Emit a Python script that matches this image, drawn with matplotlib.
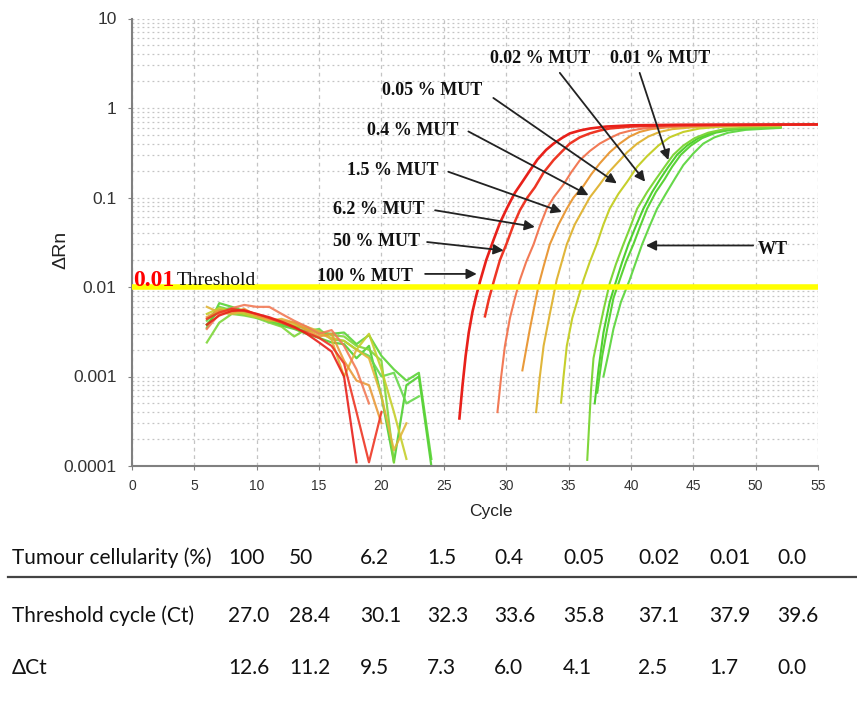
import matplotlib
matplotlib.use('Agg')
import matplotlib.pyplot as plt
from matplotlib.ticker import LogLocator, NullFormatter, FixedLocator, FixedFormatter
from matplotlib.lines import Line2D
import numpy as np

# baseline part of every well (cycles 6..24, None = no point on log axis)
base_cycles = [6, 7, 8, 9, 10, 11, 12, 13, 14, 15, 16, 17, 18, 19, 20, 21, 22, 23, 24]
N = None
base_r1 = [0.0038, 0.0048, 0.0054, 0.0055, 0.0050, 0.0046, 0.0041, 0.0036, 0.0030, 0.0024, 0.0019, 0.0010, 0.00011, N, N, N, N, N, N]
base_r2 = [0.0044, 0.0052, 0.0057, 0.0054, 0.0050, 0.0045, 0.0040, 0.0035, 0.0031, 0.0027, 0.0022, 0.0014, 0.0004, 0.00011, 0.0004, N, N, N, N]
base_o3 = [0.0034, 0.0050, 0.0058, 0.0063, 0.0060, 0.0060, 0.0050, 0.0042, 0.0036, 0.0030, 0.0033, 0.0022, 0.0012, 0.0005, N, N, N, N, N]
base_o4 = [0.0046, 0.0055, 0.0052, 0.0057, 0.0048, 0.0044, 0.0042, 0.0040, 0.0033, 0.0028, 0.0030, 0.0015, 0.0009, 0.0008, 0.0003, N, N, N, N]
base_y5 = [0.0060, 0.0052, 0.0050, 0.0053, 0.0047, 0.0042, 0.0044, 0.0040, 0.0036, 0.0032, 0.0026, 0.0010, 0.0020, 0.0016, 0.0006, 0.00015, 0.0003, N, N]
base_yg6 = [0.0050, 0.0058, 0.0054, 0.0050, 0.0046, 0.0043, 0.0040, 0.0038, 0.0034, 0.0030, 0.0027, 0.0025, 0.0020, 0.0030, 0.0012, 0.0004, 0.00012, N, N]
base_g7 = [0.0024, 0.0040, 0.0050, 0.0048, 0.0045, 0.0040, 0.0036, 0.0028, 0.0034, 0.0032, 0.0029, 0.0028, 0.0022, 0.0020, 0.0015, 0.00011, N, N, N]
base_g8 = [0.0035, 0.0066, 0.0060, 0.0054, 0.0045, 0.0043, 0.0039, 0.0036, 0.0035, 0.0031, 0.0030, 0.0031, 0.0023, 0.0029, 0.0017, 0.0012, 0.0009, 0.0011, 0.00012]
base_g9 = [0.0042, 0.0060, 0.0055, 0.0049, 0.0047, 0.0041, 0.0038, 0.0035, 0.0032, 0.0034, 0.0026, 0.0025, 0.0020, 0.0017, 0.0010, 0.0011, 0.0005, 0.0006, N]
base_g10 = [0.0038, 0.0055, 0.0058, 0.0052, 0.0046, 0.0042, 0.0037, 0.0034, 0.0030, 0.0027, 0.0024, 0.0023, 0.0016, 0.0022, 0.0006, 0.00011, 0.0008, 0.0010, 0.0001]

# amplification part of every well
amp_r1_c = [26.25, 26.5, 26.75, 27.0, 27.3, 27.6, 27.9, 28.4, 29.0, 29.5, 30.1, 30.7, 31.3, 31.9, 32.5, 33.2, 33.8, 34.5, 35.1, 35.9, 36.7, 38, 40, 44, 55]
amp_r1_v = [0.00034, 0.0008, 0.0017, 0.0031, 0.0053, 0.0080, 0.0115, 0.020, 0.034, 0.052, 0.078, 0.113, 0.150, 0.20, 0.265, 0.34, 0.40, 0.465, 0.52, 0.56, 0.59, 0.62, 0.64, 0.65, 0.655]
amp_r2_c = [28.3, 28.6, 29.0, 29.5, 30.05, 30.6, 31.1, 31.7, 32.3, 33.0, 33.8, 34.5, 35.1, 35.9, 36.7, 37.5, 38.3, 40, 43, 55]
amp_r2_v = [0.0047, 0.0072, 0.0115, 0.020, 0.031, 0.050, 0.072, 0.10, 0.13, 0.19, 0.262, 0.33, 0.40, 0.47, 0.52, 0.56, 0.59, 0.62, 0.64, 0.655]
amp_o3_c = [29.3, 29.6, 29.9, 30.3, 30.7, 31.1, 31.6, 32.2, 32.7, 33.25, 33.8, 34.6, 35.2, 35.9, 36.7, 37.5, 38.3, 39.1, 40.0, 41, 43, 46, 52]
amp_o3_v = [0.0004, 0.001, 0.0022, 0.0045, 0.0075, 0.012, 0.019, 0.030, 0.048, 0.075, 0.10, 0.14, 0.19, 0.26, 0.33, 0.40, 0.46, 0.52, 0.56, 0.59, 0.62, 0.64, 0.645]
amp_o4_c = [31.3, 31.6, 31.9, 32.3, 32.6, 33.0, 33.5, 34.2, 34.86, 35.4, 36.2, 36.8, 37.5, 38.3, 39.1, 39.9, 40.7, 41.6, 43, 46, 52]
amp_o4_v = [0.00117, 0.002, 0.0034, 0.0065, 0.0105, 0.017, 0.030, 0.050, 0.075, 0.10, 0.135, 0.18, 0.24, 0.32, 0.40, 0.48, 0.54, 0.58, 0.61, 0.635, 0.645]
amp_y5_c = [32.4, 32.7, 33.0, 33.5, 34.05, 34.5, 34.86, 35.5, 36.2, 36.7, 37.5, 38.2, 38.87, 39.7, 40.5, 41.4, 42.3, 43.3, 45, 48, 52]
amp_y5_v = [0.0004, 0.001, 0.0022, 0.005, 0.012, 0.020, 0.030, 0.050, 0.075, 0.10, 0.14, 0.19, 0.24, 0.32, 0.40, 0.48, 0.54, 0.58, 0.61, 0.635, 0.64]
amp_yg6_c = [34.4, 34.6, 34.86, 35.3, 35.8, 36.2, 36.7, 37.26, 37.8, 38.3, 39.0, 39.7, 40.5, 41.3, 42.2, 43.1, 44.2, 45.5, 47, 52]
amp_yg6_v = [0.00051, 0.001, 0.0022, 0.0045, 0.0078, 0.012, 0.019, 0.030, 0.050, 0.075, 0.11, 0.15, 0.22, 0.29, 0.38, 0.47, 0.54, 0.59, 0.615, 0.635]
amp_g7_c = [36.5, 36.8, 37.0, 37.4, 37.8, 38.3, 38.8, 39.4, 39.9, 40.5, 41.3, 42.0, 42.7, 43.4, 44.2, 45.1, 46.2, 47.5, 49, 52]
amp_g7_v = [0.000117, 0.0007, 0.0016, 0.003, 0.0055, 0.011, 0.018, 0.030, 0.045, 0.075, 0.115, 0.16, 0.22, 0.30, 0.38, 0.46, 0.53, 0.58, 0.60, 0.61]
amp_g8_c = [37.3, 37.7, 38.1, 38.6, 39.1, 39.6, 40.2, 40.7, 41.3, 42.0, 42.7, 43.3, 44.0, 44.8, 45.7, 46.8, 48.0, 50, 52]
amp_g8_v = [0.00066, 0.0017, 0.0034, 0.0075, 0.012, 0.019, 0.030, 0.046, 0.075, 0.115, 0.16, 0.22, 0.30, 0.38, 0.46, 0.53, 0.57, 0.60, 0.61]
amp_g9_c = [37.8, 38.2, 38.6, 39.2, 39.9, 40.4, 40.9, 41.5, 42.1, 42.8, 43.5, 44.2, 45.0, 45.8, 46.7, 47.8, 49.2, 52]
amp_g9_v = [0.001, 0.0018, 0.0034, 0.0068, 0.012, 0.019, 0.030, 0.048, 0.075, 0.11, 0.16, 0.23, 0.31, 0.40, 0.47, 0.53, 0.57, 0.60]
amp_g10_c = [37.1, 37.4, 37.8, 38.3, 38.8, 39.3, 39.8, 40.4, 41.0, 41.7, 42.4, 43.0, 43.7, 44.5, 45.4, 46.5, 47.8, 49.5, 52]
amp_g10_v = [0.0005, 0.0012, 0.0031, 0.0068, 0.0115, 0.019, 0.030, 0.048, 0.075, 0.115, 0.165, 0.22, 0.30, 0.38, 0.46, 0.53, 0.57, 0.60, 0.61]

threshold = 0.01

ytick_vals = [0.0001, 0.001, 0.01, 0.1, 1, 10]
ytick_labels = ['0.0001', '0.001', '0.01', '0.1', '1', '10']

# table under the chart
row_titles = ['Tumour cellularity (%)', 'Threshold cycle (Ct)', '\u0394Ct']
cellularity = ['100', '50', '6.2', '1.5', '0.4', '0.05', '0.02', '0.01', '0.0']
ct_values = ['27.0', '28.4', '30.1', '32.3', '33.6', '35.8', '37.1', '37.9', '39.6']
dct_values = ['12.6', '11.2', '9.5', '7.3', '6.0', '4.1', '2.5', '1.7', '0.0']


def main():
    fig = plt.figure(figsize=(8.57, 7.18), dpi=100)
    ax = fig.add_axes([132 / 857, 1 - 466 / 718, 686 / 857, 447.5 / 718])

    wells = [
        (base_g10, amp_g10_c, amp_g10_v, '#4fcf30', 1.5),
        (base_g9, amp_g9_c, amp_g9_v, '#66d84a', 1.5),
        (base_g8, amp_g8_c, amp_g8_v, '#5ad336', 1.5),
        (base_g7, amp_g7_c, amp_g7_v, '#7fd63a', 1.5),
        (base_yg6, amp_yg6_c, amp_yg6_v, '#c6cf2c', 1.5),
        (base_y5, amp_y5_c, amp_y5_v, '#e0b63a', 1.5),
        (base_o4, amp_o4_c, amp_o4_v, '#e99a3a', 1.5),
        (base_o3, amp_o3_c, amp_o3_v, '#f27a56', 1.5),
        (base_r2, amp_r2_c, amp_r2_v, '#ee3624', 1.8),
        (base_r1, amp_r1_c, amp_r1_v, '#e8201a', 1.9),
    ]
    for base, ac, av, col, lw in wells:
        bv = np.array([np.nan if b is None else b for b in base])
        ax.plot(base_cycles, bv, color=col, lw=1.6, alpha=0.9)
        ax.plot(ac, av, color=col, lw=lw)

    ax.axhline(threshold, color='#ffff00', lw=4, zorder=5)

    ax.set_yscale('log')
    ax.set_ylim(0.0001, 10)
    ax.set_xlim(0, 55)
    ax.yaxis.set_major_locator(FixedLocator(ytick_vals))
    ax.yaxis.set_major_formatter(FixedFormatter(ytick_labels))
    ax.yaxis.set_minor_locator(LogLocator(base=10, subs=range(2, 10)))
    ax.yaxis.set_minor_formatter(NullFormatter())
    ax.set_xticks(range(0, 56, 5))

    ax.grid(axis='y', which='both', color='#c4c4c4', linestyle=(0, (1.5, 2.5)), lw=0.9)
    ax.grid(axis='x', which='major', color='#c4c4c4', linestyle=(0, (3, 3)), lw=0.9)
    ax.set_axisbelow(True)

    for s in ['top', 'right']:
        ax.spines[s].set_visible(False)
    for s in ['left', 'bottom']:
        ax.spines[s].set_color('#808080')
        ax.spines[s].set_linewidth(1.5)
    ax.tick_params(axis='y', which='major', labelsize=12.5, colors='#808080', labelcolor='#333333', length=3, pad=8)
    ax.tick_params(axis='y', which='minor', length=0)
    ax.tick_params(axis='x', labelsize=10, colors='#808080', labelcolor='#333333', length=3, pad=6)
    for t in ax.get_xticklabels() + ax.get_yticklabels():
        t.set_family('Liberation Sans')

    ax.set_ylabel('\u0394Rn', fontsize=14, family='Liberation Sans', color='#222222')
    ax.yaxis.set_label_coords(-0.092, 0.483)
    ax.set_xlabel('Cycle', fontsize=12.5, family='Liberation Sans', color='#222222')
    ax.xaxis.set_label_coords(0.523, -0.085)

    # threshold label
    ax.text(0.08, 0.0103, '0.01', color='#ff0000', fontsize=17, fontweight='bold',
            family='Liberation Serif', va='baseline', ha='left', zorder=6)
    ax.text(3.58, 0.0106, 'Threshold', color='#111111', fontsize=14,
            family='Liberation Serif', va='baseline', ha='left', zorder=6)

    # labels with arrows: text (x, y), arrow tail, arrow tip
    labels = [
        ('0.02 % MUT', (28.7, 3.2), (34.3, 2.47), (41.14, 0.15)),
        ('0.01 % MUT', (38.33, 3.2), (40.7, 2.47), (43.0, 0.262)),
        ('0.05 % MUT', (20.05, 1.40), (28.97, 1.295), (38.87, 0.1437)),
        ('0.4 % MUT', (18.85, 0.498), (26.97, 0.547), (36.6, 0.106)),
        ('1.5 % MUT', (17.24, 0.1766), (25.36, 0.194), (34.46, 0.069)),
        ('6.2 % MUT', (16.12, 0.066), (24.3, 0.072), (32.3, 0.0469)),
        ('50 % MUT', (16.12, 0.0289), (23.66, 0.0318), (29.8, 0.0256)),
        ('100 % MUT', (14.84, 0.01167), (23.5, 0.014), (27.64, 0.014)),
        ('WT', (50.2, 0.0235), (49.8, 0.0291), (41.2, 0.0291)),
    ]
    for txt, pos, tail, tip in labels:
        ax.text(pos[0], pos[1], txt, fontsize=13, fontweight='bold', family='Liberation Serif',
                color='#111111', va='baseline', ha='left', zorder=7)
        ax.annotate('', xy=tip, xytext=tail,
                    arrowprops=dict(arrowstyle='-|>', color='#222222', lw=1.3,
                                    mutation_scale=15, shrinkA=0, shrinkB=0), zorder=7)

    # table
    col_x = [228, 289, 360, 427, 494, 563, 638, 709, 777]
    row_y = [558, 616, 668]
    rows = [cellularity, ct_values, dct_values]
    for r in range(3):
        fig.text(12 / 857, 1 - row_y[r] / 718, row_titles[r], fontsize=15, family='Lato',
                 va='center', ha='left', color='#111111')
        for c in range(len(col_x)):
            fig.text(col_x[c] / 857, 1 - row_y[r] / 718, rows[r][c], fontsize=15, family='Lato',
                     va='center', ha='left', color='#111111')
    fig.add_artist(Line2D([8 / 857, 1.0], [1 - 577 / 718, 1 - 577 / 718], color='#444444', lw=1.6))

    fig.savefig('out.png', dpi=100)


if __name__ == "__main__":
    main()
